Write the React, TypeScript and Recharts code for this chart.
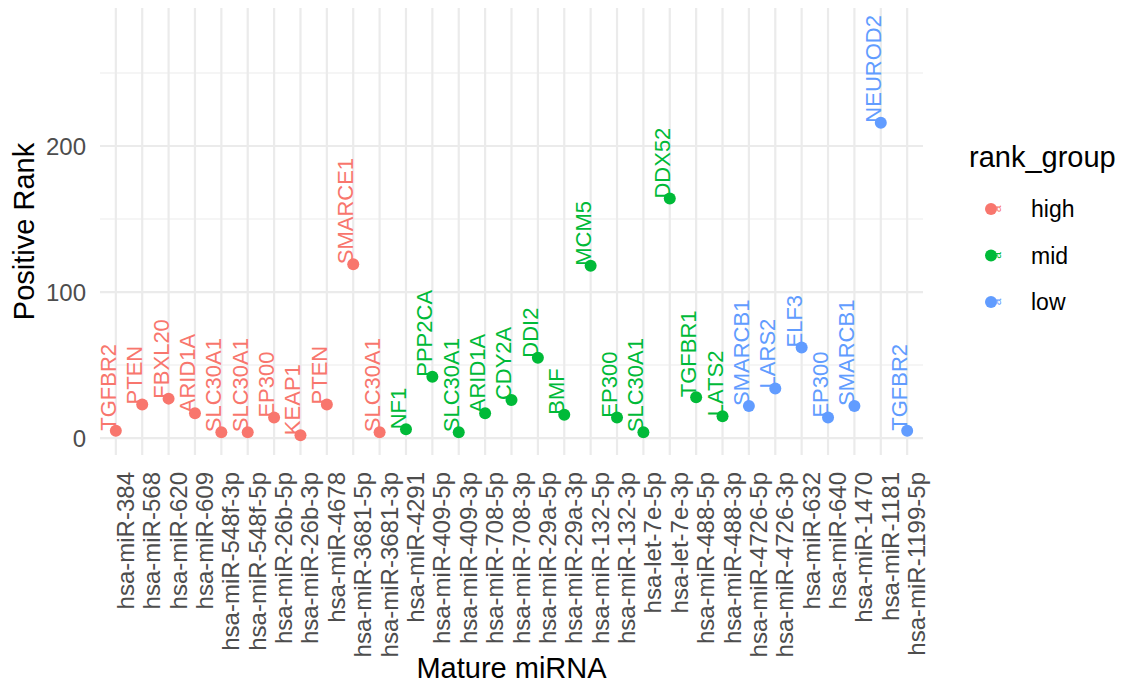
import React from 'react';
import {
  ScatterChart,
  Scatter,
  XAxis,
  YAxis,
  ReferenceLine,
  Label,
} from 'recharts';

// Mature miRNAs along the x axis, in plotted order
const mirnas = [
  'hsa-miR-384', 'hsa-miR-568', 'hsa-miR-620', 'hsa-miR-609', 'hsa-miR-548f-3p',
  'hsa-miR-548f-5p', 'hsa-miR-26b-5p', 'hsa-miR-26b-3p', 'hsa-miR-4678', 'hsa-miR-3681-5p',
  'hsa-miR-3681-3p', 'hsa-miR-4291', 'hsa-miR-409-5p', 'hsa-miR-409-3p', 'hsa-miR-708-5p',
  'hsa-miR-708-3p', 'hsa-miR-29a-5p', 'hsa-miR-29a-3p', 'hsa-miR-132-5p', 'hsa-miR-132-3p',
  'hsa-let-7e-5p', 'hsa-let-7e-3p', 'hsa-miR-488-5p', 'hsa-miR-488-3p', 'hsa-miR-4726-5p',
  'hsa-miR-4726-3p', 'hsa-miR-632', 'hsa-miR-640', 'hsa-miR-1470', 'hsa-miR-1181',
  'hsa-miR-1199-5p',
];

// Target gene for each miRNA
const genes = [
  'TGFBR2', 'PTEN', 'FBXL20', 'ARID1A', 'SLC30A1', 'SLC30A1', 'EP300', 'KEAP1', 'PTEN', 'SMARCE1',
  'SLC30A1', 'NF1', 'PPP2CA', 'SLC30A1', 'ARID1A', 'CDY2A', 'DDI2', 'BMF', 'MCM5', 'EP300',
  'SLC30A1', 'DDX52', 'TGFBR1', 'LATS2', 'SMARCB1', 'LARS2', 'ELF3', 'EP300', 'SMARCB1', 'NEUROD2',
  'TGFBR2',
];

// Positive rank of each miRNA-gene pair
const ranks = [
  5, 23, 27, 17, 4, 4, 14, 2, 23, 119,
  4, 6, 42, 4, 17, 26, 55, 16, 118, 14,
  4, 164, 28, 15, 22, 34, 62, 14, 22, 216,
  5,
];

// Rank group of each pair
const rankGroups = [
  'high', 'high', 'high', 'high', 'high', 'high', 'high', 'high', 'high', 'high',
  'high', 'mid', 'mid', 'mid', 'mid', 'mid', 'mid', 'mid', 'mid', 'mid',
  'mid', 'mid', 'mid', 'mid', 'low', 'low', 'low', 'low', 'low', 'low',
  'low',
];

const groupNames = ['high', 'mid', 'low'];
const groupColors: Record<string, string> = {
  high: '#F8766D',
  mid: '#00BA38',
  low: '#619CFF',
};

const yTicks = [0, 100, 200];
const yMinorTicks = [50, 150, 250];

const FONT = '"Liberation Sans", Arial, Helvetica, sans-serif';
const GRID = '#EBEBEB';

const rows = mirnas.map((m, i) => ({
  idx: i,
  mirna: m,
  gene: genes[i],
  rank: ranks[i],
  group: rankGroups[i],
}));

const seriesByGroup = groupNames.map((g) => ({
  name: g,
  color: groupColors[g],
  data: rows.filter((r) => r.group === g),
}));

const Dot = (props: any) => {
  const { cx, cy, fill } = props;
  if (cx == null || cy == null) return null;
  return <circle cx={cx} cy={cy} r={6} fill={fill} />;
};

// Gene name written vertically, starting at the point
const GeneText = (props: any) => {
  const { cx, cy, payload } = props;
  if (cx == null || cy == null) return null;
  return (
    <text
      x={cx}
      y={cy}
      transform={`rotate(-90, ${cx}, ${cy})`}
      textAnchor="start"
      fontFamily={FONT}
      fontSize={22}
      fill={groupColors[payload.group]}
    >
      {payload.gene}
    </text>
  );
};

const MirnaTick = (props: any) => {
  const { x, y, payload } = props;
  const tx = x + 18;
  const ty = y + 17;
  return (
    <text
      x={tx}
      y={ty}
      transform={`rotate(-90, ${tx}, ${ty})`}
      textAnchor="end"
      fontFamily={FONT}
      fontSize={24}
      fill="#4D4D4D"
    >
      {mirnas[payload.value]}
    </text>
  );
};

const XTitle = (props: any) => {
  const { viewBox } = props;
  const cx = viewBox.x + viewBox.width / 2;
  return (
    <text x={cx} y={viewBox.y + 223} textAnchor="middle" fontFamily={FONT} fontSize={29} fill="#000">
      Mature miRNA
    </text>
  );
};

const YTitle = (props: any) => {
  const { viewBox } = props;
  const cy = viewBox.y + viewBox.height / 2;
  const bx = 34;
  return (
    <text
      x={bx}
      y={cy}
      transform={`rotate(-90, ${bx}, ${cy})`}
      textAnchor="middle"
      fontFamily={FONT}
      fontSize={29}
      fill="#000"
    >
      Positive Rank
    </text>
  );
};

const GroupLegend = () => (
  <svg width={160} height={200} style={{ position: 'absolute', left: 964, top: 140 }}>
    <text x={5} y={27} fontFamily={FONT} fontSize={29} fill="#000">
      rank_group
    </text>
    {groupNames.map((g, i) => {
      const cy = 69 + i * 46.5;
      return (
        <g key={g}>
          <circle cx={27} cy={cy} r={6} fill={groupColors[g]} />
          <text
            x={37}
            y={cy}
            transform={`rotate(-90, 37, ${cy})`}
            textAnchor="middle"
            fontFamily={FONT}
            fontSize={12}
            fill={groupColors[g]}
          >
            a
          </text>
          <text x={67} y={cy} dy="0.355em" fontFamily={FONT} fontSize={23} fill="#000">
            {g}
          </text>
        </g>
      );
    })}
  </svg>
);

export default function App() {
  return (
    <div style={{ position: 'absolute', left: 0, top: 0, width: 1124, height: 686, background: '#fff' }}>
      <ScatterChart width={1124} height={686} margin={{ top: 8, right: 201, bottom: 0, left: 0 }}>
        {/* panel grid: one vertical line per miRNA, major and minor horizontals */}
        {mirnas.map((_, i) => (
          <ReferenceLine key={`v${i}`} x={i} stroke={GRID} strokeWidth={2.2} />
        ))}
        {yTicks.map((v) => (
          <ReferenceLine key={`h${v}`} y={v} stroke={GRID} strokeWidth={2.2} />
        ))}
        {yMinorTicks.map((v) => (
          <ReferenceLine key={`m${v}`} y={v} stroke={GRID} strokeWidth={1.1} />
        ))}
        <XAxis
          type="number"
          dataKey="idx"
          domain={[-0.6, 30.6]}
          ticks={mirnas.map((_, i) => i)}
          interval={0}
          allowDataOverflow
          axisLine={false}
          tickLine={false}
          tickSize={0}
          tickMargin={0}
          height={231}
          tick={<MirnaTick />}
        >
          <Label content={<XTitle />} />
        </XAxis>
        <YAxis
          type="number"
          dataKey="rank"
          domain={[-11.6, 294.5]}
          ticks={yTicks}
          allowDataOverflow
          axisLine={false}
          tickLine={false}
          tickSize={0}
          tickMargin={14}
          width={100}
          tick={{ fontFamily: FONT, fontSize: 24, fill: '#4D4D4D' }}
        >
          <Label content={<YTitle />} />
        </YAxis>
        {seriesByGroup.map((s) => (
          <Scatter
            key={s.name}
            name={s.name}
            data={s.data}
            fill={s.color}
            shape={<Dot />}
            isAnimationActive={false}
          />
        ))}
        <Scatter
          name="labels"
          data={rows}
          fill="none"
          shape={<GeneText />}
          legendType="none"
          isAnimationActive={false}
        />
      </ScatterChart>
      <GroupLegend />
    </div>
  );
}
